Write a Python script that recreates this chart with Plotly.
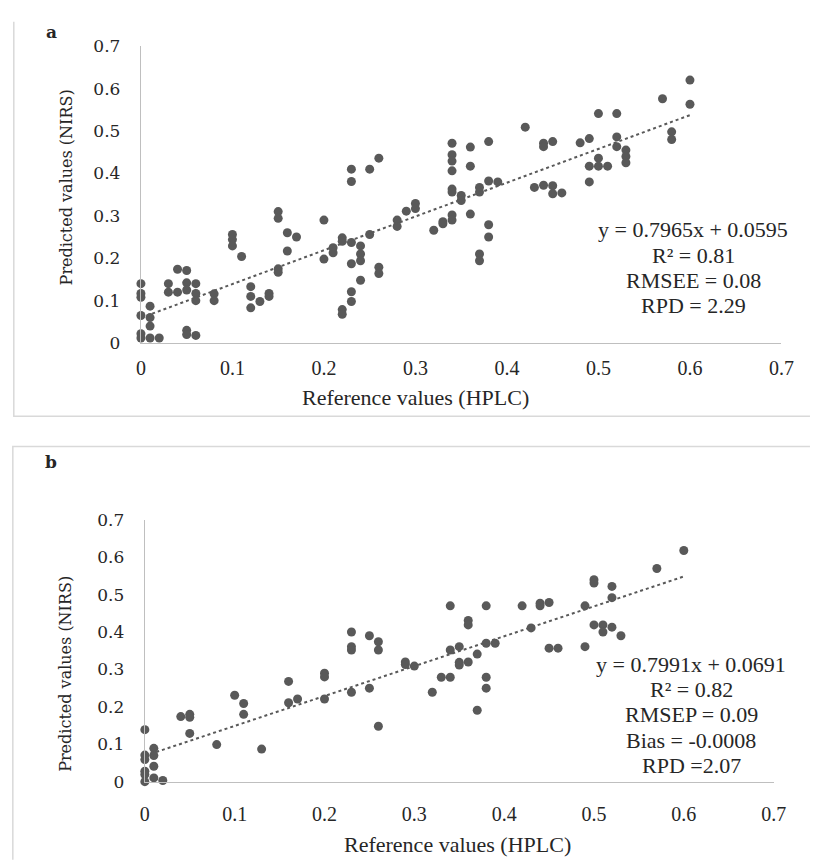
import plotly.graph_objects as go

# Calibration set (a): reference HPLC values vs NIRS predictions
a_ref = [0, 0, 0, 0, 0, 0,
         0.01, 0.01, 0.01, 0.01, 0.02, 0.03, 0.03, 0.04, 0.04,
         0.05, 0.05, 0.05, 0.05, 0.05, 0.06, 0.06, 0.06, 0.06,
         0.08, 0.08, 0.10, 0.10, 0.10, 0.11, 0.12, 0.12, 0.12, 0.13,
         0.14, 0.14, 0.15, 0.15, 0.15, 0.15, 0.16, 0.16, 0.17,
         0.20, 0.20, 0.21, 0.21, 0.22, 0.22, 0.22, 0.22,
         0.23, 0.23, 0.23, 0.23, 0.23, 0.23, 0.24, 0.24, 0.24, 0.24,
         0.25, 0.25, 0.26, 0.26, 0.26, 0.28, 0.28, 0.29, 0.30, 0.30,
         0.32, 0.33, 0.33, 0.34, 0.34, 0.34, 0.34, 0.34, 0.34, 0.34, 0.34,
         0.35, 0.35, 0.36, 0.36, 0.36, 0.37, 0.37, 0.37, 0.37,
         0.38, 0.38, 0.38, 0.38, 0.39, 0.42, 0.43, 0.44, 0.44, 0.44,
         0.45, 0.45, 0.45, 0.46, 0.48, 0.49, 0.49, 0.49,
         0.50, 0.50, 0.50, 0.51, 0.52, 0.52, 0.52, 0.53, 0.53, 0.53,
         0.57, 0.58, 0.58, 0.60, 0.60]
a_pred = [0.14, 0.117, 0.108, 0.065, 0.022, 0.012,
          0.087, 0.06, 0.04, 0.012, 0.012, 0.14, 0.12, 0.174, 0.12,
          0.171, 0.142, 0.125, 0.03, 0.02, 0.14, 0.117, 0.10, 0.018,
          0.116, 0.10, 0.256, 0.244, 0.229, 0.204, 0.133, 0.11, 0.083, 0.098,
          0.117, 0.11, 0.31, 0.294, 0.175, 0.167, 0.26, 0.217, 0.25,
          0.29, 0.198, 0.225, 0.213, 0.248, 0.24, 0.079, 0.068,
          0.41, 0.381, 0.237, 0.187, 0.121, 0.098, 0.229, 0.21, 0.194, 0.148,
          0.41, 0.256, 0.436, 0.179, 0.164, 0.29, 0.275, 0.311, 0.329, 0.317,
          0.266, 0.286, 0.281, 0.471, 0.444, 0.429, 0.406, 0.363, 0.356, 0.302, 0.29,
          0.348, 0.336, 0.462, 0.417, 0.304, 0.367, 0.356, 0.21, 0.194,
          0.475, 0.382, 0.279, 0.25, 0.38, 0.509, 0.367, 0.471, 0.463, 0.372,
          0.475, 0.371, 0.352, 0.354, 0.472, 0.482, 0.417, 0.38,
          0.541, 0.436, 0.417, 0.417, 0.541, 0.486, 0.463, 0.455, 0.44, 0.425,
          0.576, 0.498, 0.48, 0.62, 0.563]

# Validation set (b)
b_ref = [0, 0, 0, 0, 0, 0,
         0.01, 0.01, 0.01, 0.01, 0.02, 0.04, 0.05, 0.05, 0.05,
         0.08, 0.10, 0.11, 0.11, 0.13, 0.16, 0.16, 0.17,
         0.20, 0.20, 0.20, 0.23, 0.23, 0.23, 0.23, 0.25, 0.25,
         0.26, 0.26, 0.26, 0.29, 0.29, 0.30, 0.32, 0.33,
         0.34, 0.34, 0.34, 0.35, 0.35, 0.35, 0.36, 0.36, 0.36,
         0.37, 0.37, 0.38, 0.38, 0.38, 0.38, 0.39, 0.42, 0.43,
         0.44, 0.44, 0.45, 0.45, 0.46, 0.49, 0.49,
         0.50, 0.50, 0.50, 0.51, 0.51, 0.52, 0.52, 0.52, 0.53, 0.57, 0.60]
b_pred = [0.139, 0.071, 0.059, 0.028, 0.019, 0.0,
          0.089, 0.07, 0.041, 0.01, 0.003, 0.174, 0.18, 0.172, 0.129,
          0.099, 0.231, 0.209, 0.18, 0.087, 0.268, 0.211, 0.221,
          0.29, 0.28, 0.221, 0.40, 0.361, 0.352, 0.239, 0.39, 0.25,
          0.374, 0.352, 0.148, 0.32, 0.313, 0.309, 0.239, 0.279,
          0.47, 0.352, 0.279, 0.361, 0.319, 0.312, 0.431, 0.419, 0.32,
          0.341, 0.191, 0.47, 0.37, 0.279, 0.25, 0.37, 0.47, 0.411,
          0.477, 0.47, 0.479, 0.357, 0.357, 0.47, 0.361,
          0.54, 0.531, 0.419, 0.419, 0.40, 0.522, 0.492, 0.413, 0.39, 0.57, 0.618]

# Linear trend coefficients (slope, intercept) and statistics text
a_fit = (0.7965, 0.0595)
b_fit = (0.7991, 0.0691)
a_stats = ["y = 0.7965x + 0.0595", "R² = 0.81", "RMSEE = 0.08", "RPD = 2.29"]
b_stats = ["y = 0.7991x + 0.0691", "R² = 0.82", "RMSEP = 0.09", "Bias = -0.0008", "RPD =2.07"]
tick_vals = [0, 0.1, 0.2, 0.3, 0.4, 0.5, 0.6, 0.7]
tick_text = ["0", "0.1", "0.2", "0.3", "0.4", "0.5", "0.6", "0.7"]
x_title = "Reference values (HPLC)"
y_title = "Predicted values (NIRS)"

W, H = 815, 860
MARK = "#595959"
AXIS = "#bfbfbf"
BORDER = "#d9d9d9"
SERIF = "Liberation Serif, Times New Roman, serif"
SERIF_Y = "DejaVu Serif, Cambria, serif"


def px(x):
    return x / W


def py(y):
    return 1 - y / H


fig = go.Figure()

panels = [
    dict(ref=a_ref, pred=a_pred, fit=a_fit, xa="x", ya="y"),
    dict(ref=b_ref, pred=b_pred, fit=b_fit, xa="x2", ya="y2"),
]

for p in panels:
    fig.add_trace(go.Scatter(
        x=p["ref"], y=p["pred"], mode="markers", xaxis=p["xa"], yaxis=p["ya"],
        marker=dict(color=MARK, size=9, line=dict(width=0)),
        cliponaxis=False, showlegend=False, hoverinfo="x+y"))
    slope, icpt = p["fit"]
    x0, x1 = min(p["ref"]), max(p["ref"])
    fig.add_trace(go.Scatter(
        x=[x0, x1], y=[slope * x0 + icpt, slope * x1 + icpt], mode="lines",
        xaxis=p["xa"], yaxis=p["ya"], cliponaxis=False,
        line=dict(color=MARK, width=2, dash="dot"), showlegend=False,
        hoverinfo="skip"))

axis_common = dict(range=[0, 0.7], tickvals=tick_vals, ticktext=tick_text,
                   showgrid=False, zeroline=False, showline=True,
                   linecolor=AXIS, linewidth=1.3, ticks="outside",
                   tickcolor="rgba(0,0,0,0)")

fig.update_layout(
    width=W, height=H, margin=dict(l=0, r=0, t=0, b=0),
    paper_bgcolor="white", plot_bgcolor="white",
    xaxis=dict(domain=[px(139), px(794)], anchor="y", ticklen=7,
               tickfont=dict(family=SERIF, size=20, color="#262626"), **axis_common),
    yaxis=dict(domain=[py(341), py(37)], anchor="x", ticklen=16,
               tickfont=dict(family=SERIF_Y, size=17, color="#262626"), **axis_common),
    xaxis2=dict(domain=[px(143), px(786)], anchor="y2", ticklen=14,
                tickfont=dict(family=SERIF, size=20, color="#262626"), **axis_common),
    yaxis2=dict(domain=[py(790), py(522)], anchor="x2", ticklen=16,
                tickfont=dict(family=SERIF_Y, size=17, color="#262626"), **axis_common),
)

# Panel frames (extend past the right edge of the page)
shapes = [
    dict(type="path", path=f"M {px(9)} {py(12)} L {px(9)} {py(416)} L 1.01 {py(416)}"),
    dict(type="path", path=f"M 1.01 {py(447)} L {px(8)} {py(447)} L {px(8)} {py(870)}"),
]
for s in shapes:
    s.update(xref="paper", yref="paper", line=dict(color=BORDER, width=1.5))
fig.update_layout(shapes=shapes)

ann = []


def text(x, y, s, size, family=SERIF, angle=0, bold=False):
    ann.append(dict(x=px(x), y=py(y), xref="paper", yref="paper",
                    text=f"<b>{s}</b>" if bold else s, showarrow=False,
                    xanchor="center", yanchor="middle", textangle=angle,
                    font=dict(family=family, size=size, color="#262626")))


# Panel letters
text(48, 23, "a", 17, family=SERIF_Y, bold=True)
text(47, 463, "b", 17, family=SERIF_Y, bold=True)

# Axis titles
text(420, 397, x_title, 22)
text(463, 854, x_title, 22)
text(63, 182, y_title, 16, family=SERIF_Y, angle=-90)
text(62, 680, y_title, 16, family=SERIF_Y, angle=-90)

# Regression statistics
for i, s in enumerate(a_stats):
    text(704, 225 + i * 26, s, 22)
for i, s in enumerate(b_stats):
    text(702, 670 + i * 25.8, s, 22)

fig.update_layout(annotations=ann)
fig.write_html("out.html")
